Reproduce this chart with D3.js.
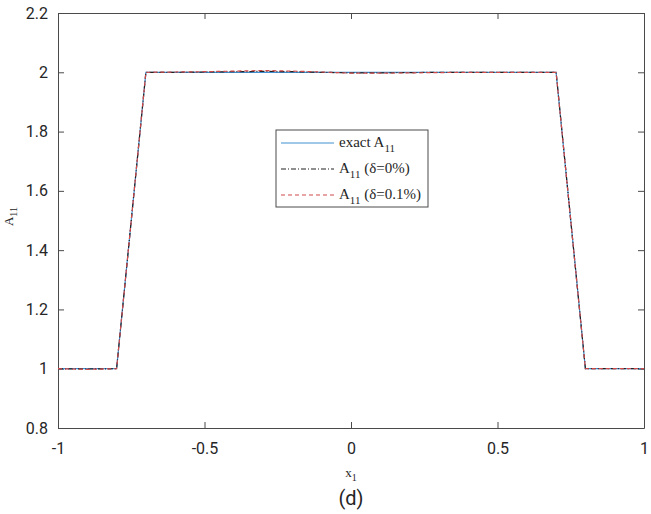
<!DOCTYPE html>
<html>
<head>
<meta charset="utf-8">
<script src="https://cdn.jsdelivr.net/npm/d3@7"></script>
<style>
  body { margin: 0; background: #fff; }
  svg text { fill: #262626; }
</style>
</head>
<body>
<div id="chart"></div>
<script>
// data
var xVals   = [-1, -0.9, -0.8, -0.7, -0.6, -0.5, -0.4, -0.3, -0.2, -0.1, 0, 0.1, 0.2, 0.3, 0.4, 0.5, 0.6, 0.7, 0.8, 0.9, 1];
var exactA  = [1, 1, 1, 2, 2, 2, 2, 2, 2, 2, 2, 2, 2, 2, 2, 2, 2, 2, 1, 1, 1];
var recon0  = [1, 0.999, 1, 2, 2.0, 2.001, 2.002, 2.003, 2.002, 2.0, 1.998, 1.998, 1.999, 2.0, 2.0, 2.0, 2.0, 2.0, 1, 1, 1];
var recon01 = [1, 0.998, 1, 2, 2.001, 2.002, 2.004, 2.006, 2.004, 2.001, 1.997, 1.997, 1.998, 1.999, 2.0, 2.0, 2.0, 2.0, 1, 1, 1];
var xTicks  = [-1, -0.5, 0, 0.5, 1];
var yTicks  = [0.8, 1, 1.2, 1.4, 1.6, 1.8, 2, 2.2];

var W = 651, H = 514;
var margin = {top: 13, right: 7, bottom: 86, left: 58},
  width = W - margin.left - margin.right,
  height = H - margin.top - margin.bottom;
var axisColor = "#4a4a4a";

var svg = d3.select("#chart").append("svg")
  .attr("width", W)
  .attr("height", H)
  .append("g")
  .attr("transform", "translate(" + margin.left + "," + margin.top + ")");

var xx = d3.scaleLinear().domain([-1, 1]).range([0, width]);
var yy = d3.scaleLinear().domain([0.8, 2.2]).range([height, 0]);

// box and inward ticks (MATLAB style)
function addAxis(axis, tr, labels) {
  var g = svg.append("g").attr("transform", tr).call(axis);
  g.select(".domain").attr("stroke", axisColor);
  g.selectAll(".tick line").attr("stroke", axisColor);
  g.selectAll("text")
    .style("font-family", "Roboto, 'Liberation Sans', sans-serif")
    .style("font-size", "16px")
    .attr("fill", "#262626");
  if (!labels) g.selectAll("text").remove();
  return g;
}
var fmt = function(d) { return String(+d.toFixed(1)); };
var tk = 6;
addAxis(d3.axisBottom(xx).tickValues(xTicks).tickFormat(fmt).tickSizeInner(-tk).tickSizeOuter(0).tickPadding(15),
  "translate(0," + height + ")", true);
addAxis(d3.axisTop(xx).tickValues(xTicks).tickSizeInner(-tk).tickSizeOuter(0), "translate(0,0)", false);
addAxis(d3.axisLeft(yy).tickValues(yTicks).tickFormat(fmt).tickSizeInner(-tk).tickSizeOuter(0).tickPadding(10),
  "translate(0,0)", true);
addAxis(d3.axisRight(yy).tickValues(yTicks).tickSizeInner(-tk).tickSizeOuter(0), "translate(" + width + ",0)", false);

// lines
function drawLine(vals, color, dash, sw) {
  var pts = xVals.map(function(x, i) { return [x, vals[i]]; });
  svg.append("path")
    .datum(pts)
    .attr("fill", "none")
    .attr("stroke", color)
    .attr("stroke-width", sw)
    .attr("stroke-dasharray", dash)
    .attr("d", d3.line()
      .x(function(d) { return xx(d[0]); })
      .y(function(d) { return yy(d[1]); }));
}
drawLine(exactA, "#3f8fd2", null, 1.2);
drawLine(recon0, "#222", "5,2,1,2", 1.2);
drawLine(recon01, "#d24a4a", "4,3", 1.2);

// axis labels
var serif = "'Liberation Serif', 'Times New Roman', serif";
var xl = svg.append("text")
  .attr("x", width / 2).attr("y", height + 49)
  .attr("text-anchor", "middle")
  .style("font-family", serif).style("font-size", "13px");
xl.append("tspan").text("x");
xl.append("tspan").attr("dy", 4).style("font-size", "10px").text("1");

var yl = svg.append("text")
  .attr("transform", "translate(-45," + (height / 2 - 4) + ") rotate(-90)")
  .attr("text-anchor", "middle")
  .style("font-family", serif).style("font-size", "13px");
yl.append("tspan").text("A");
yl.append("tspan").attr("dy", 4).style("font-size", "10px").text("11");

svg.append("text")
  .attr("x", width / 2).attr("y", height + 77)
  .attr("text-anchor", "middle")
  .style("font-family", "Roboto, 'Liberation Sans', sans-serif")
  .style("font-size", "20px")
  .text("(d)");

// legend
var lg = svg.append("g").attr("transform", "translate(" + (276 - margin.left) + "," + (130 - margin.top) + ")");
lg.append("rect").attr("width", 152).attr("height", 77)
  .attr("fill", "#fff").attr("stroke", axisColor).attr("stroke-width", 1);
var legendItems = [
  {pre: "exact A", sub: "11", post: "", color: "#3f8fd2", dash: null},
  {pre: "A", sub: "11", post: " (\u03b4=0%)", color: "#222", dash: "5,2,1,2"},
  {pre: "A", sub: "11", post: " (\u03b4=0.1%)", color: "#d24a4a", dash: "4,3"}
];
legendItems.forEach(function(d, i) {
  var y = 13 + i * 26;
  lg.append("line").attr("x1", 5).attr("x2", 58).attr("y1", y).attr("y2", y)
    .attr("stroke", d.color).attr("stroke-width", 1.2).attr("stroke-dasharray", d.dash);
  var t = lg.append("text").attr("x", 63).attr("y", y + 4)
    .style("font-family", serif).style("font-size", "15px");
  t.append("tspan").text(d.pre);
  t.append("tspan").attr("dy", 5).style("font-size", "11px").text(d.sub);
  t.append("tspan").attr("dy", -5).text(d.post);
});
</script>
</body>
</html>
